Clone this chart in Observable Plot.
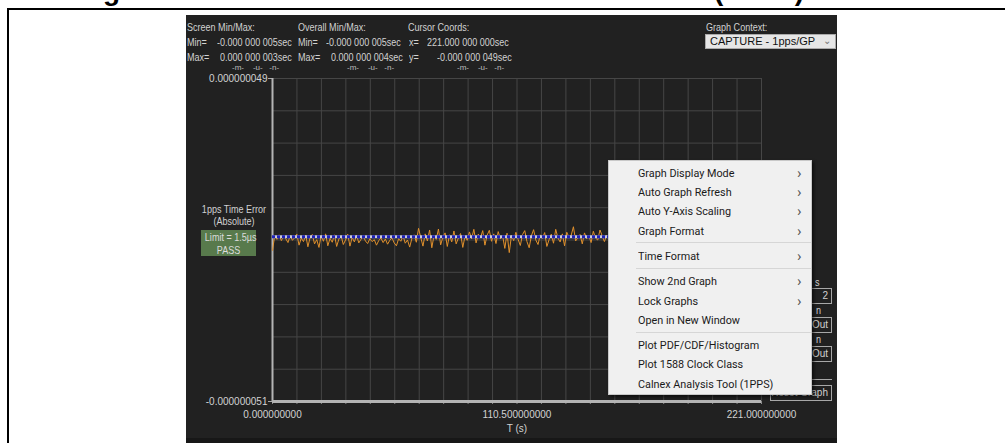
<!DOCTYPE html>
<html><head><meta charset="utf-8">
<script src="https://cdn.jsdelivr.net/npm/d3@7"></script>
<script src="https://cdn.jsdelivr.net/npm/@observablehq/plot@0.6"></script>
<style>
html,body{margin:0;padding:0;background:#fff;width:1005px;height:443px;overflow:hidden;font-family:"Liberation Sans",Arial,sans-serif;}
#title{position:absolute;left:78px;top:-24px;font:bold 28px "Liberation Sans",Arial,sans-serif;line-height:30px;color:#000;white-space:pre;}
#frame{position:absolute;left:7px;top:8px;width:1100px;height:500px;border-top:2px solid #000;border-left:2px solid #000;}
#panel{position:absolute;left:186px;top:15px;width:651px;height:428px;background:#212121;}
#panelfoot{position:absolute;left:186px;top:438px;width:651px;height:5px;background:#171717;}
.t{position:absolute;white-space:pre;color:#d2d2d2;font-size:10.5px;line-height:12px;transform:scaleX(0.86);transform-origin:0 0;}
.tc{position:absolute;white-space:pre;color:#d2d2d2;font-size:10.5px;line-height:12px;transform:scaleX(0.86);transform-origin:50% 0;text-align:center;}
.s{position:absolute;white-space:pre;color:#bdbdbd;font-size:8px;line-height:9px;}
#chart{position:absolute;left:186px;top:60px;}
#ctx{position:absolute;left:705px;top:34px;width:129px;height:13px;background:#e6e6e6;border:1px solid #aaa;color:#111;font-size:11px;line-height:13px;}
#green{position:absolute;left:201px;top:230px;width:55px;height:26px;background:#587a4c;}
.box{position:absolute;border:1px solid #a8a8a8;color:#cfcfcf;font-size:10px;line-height:13px;text-align:right;padding-right:3px;box-sizing:border-box;}
#menu{position:absolute;left:608px;top:160px;width:204px;height:235px;background:#f0f0f0;border:1px solid #c8c8c8;box-sizing:border-box;box-shadow:2px 2px 3px rgba(0,0,0,0.55);font-family:Roboto,"Liberation Sans",sans-serif;}
.mi{position:absolute;left:29px;font-size:11.5px;line-height:14px;color:#1a1a1a;white-space:pre;transform:scaleX(0.94);transform-origin:0 0;}
.ar{position:absolute;left:188px;font-size:15px;line-height:14px;color:#555;}
.sep{position:absolute;left:27px;width:175px;height:1px;background:#d6d6d6;}
</style></head>
<body>
<div id="title">Figure 5: 1PPS Time Error Measurement Result (1PPS)</div>
<div id="frame"></div>
<div id="panel"></div>
<div id="panelfoot"></div>

<div id="chart"></div>
<div id="texts"></div>

<script>
// ---- data ----
// time error samples (ns), one per second, visible portion of the capture
const timeErrorNs = [
 -4.2, 0.3, -0.8, 0.6, -1.2, 0.2, -0.6, -1.8, 0.4, -1.1,
 -0.3, 0.8, -2.6, -0.4, -1.5, 0.5, -3.1, -0.2, 0.7, -2.2,
 -0.9, -3.3, 0.4, -1.4, 0.9, -2.8, -0.5, -1.7, 0.6, -3.0,
 -0.7, 0.3, -2.4, -1.0, 0.8, -2.9, -0.2, -1.6, 0.5, -1.9,
 -0.8, 0.2, -1.3, -2.1, -0.6, -1.5, -0.9, -2.6, -1.2, -0.4,
 -1.8, -0.7, -2.3, -1.1, -0.3, -1.9, -2.8, -0.6, -1.4, 0.3,
 -2.0, -1.0, -3.2, -0.5, 0.6, -1.7, 2.6, -0.2, -2.9, 0.9,
 -1.3, 2.1, -3.4, 0.4, -0.8, 2.4, -2.5, -0.1, 1.2, -3.0,
 0.6, -1.6, 1.8, -2.2, -0.4, 1.0, -3.3, 0.2, -1.1, 1.5,
 -0.6, 2.3, -1.9, 0.8, -0.3, 1.9, -2.6, 0.5, 2.0, -1.4,
 0.9, -2.1, 1.6, -0.7, 0.3, -3.6, 1.1, -4.9, 0.4, -1.2,
 1.4, -0.8, -2.7, 0.7, 1.9, -1.5, -3.4, 0.3, 2.2, -1.0,
 -2.4, 0.6, -0.5, 1.3, -3.0, -0.9, 0.8, -2.0, 2.3, -0.4,
 -1.6, 0.9, -2.8, 1.4, -0.2, 0.5, 3.1, -1.3, -0.3, 0.7,
 -2.2, 1.2, -0.6, 0.2, -1.8, 1.7, -0.4, -1.0, 2.1, 0.3,
 -1.5, 0.4
];
const xDomain = [0, 221];                 // seconds
const yDomain = [-51e-9, 49e-9];          // seconds
const xTickLabels = [0, 110.5, 221];
const yTickLabels = [49e-9, -51e-9];
const referenceLevel = [0];
const xGridCount = 20, yGridCount = 10;

const headerLabels = ["Screen Min/Max:", "Overall Min/Max:", "Cursor Coords:"];
const screenMinMax = ["-0.000 000 005sec", "0.000 000 003sec"];
const overallMinMax = ["-0.000 000 005sec", "0.000 000 004sec"];
const cursorCoords = ["221.000 000 000sec", "-0.000 000 049sec"];
const graphContext = "CAPTURE - 1pps/GP";
const yAxisTitle = ["1pps Time Error", "(Absolute)"];
const limitBox = ["Limit = 1.5µs", "PASS"];
const menuItems = [
  ["Graph Display Mode", true], ["Auto Graph Refresh", true], ["Auto Y-Axis Scaling", true], ["Graph Format", true], null,
  ["Time Format", true], null,
  ["Show 2nd Graph", true], ["Lock Graphs", true], ["Open in New Window", false], null,
  ["Plot PDF/CDF/Histogram", false], ["Plot 1588 Clock Class", false], ["Calnex Analysis Tool (1PPS)", false]
];

// ---- chart ----
const series = timeErrorNs.map((v, i) => ({t: i, e: v * 1e-9}));
const gridX = d3.range(0, xGridCount + 1).map(i => i * xDomain[1] / xGridCount);
const gridY = d3.range(0, yGridCount + 1).map(i => yDomain[0] + i * (yDomain[1] - yDomain[0]) / yGridCount);
const fmt = d => d3.format(".9f")(d).replace("\u2212", "-");

const chart = Plot.plot({
  width: 651, height: 383,
  marginLeft: 86, marginRight: 76, marginTop: 18, marginBottom: 42,
  style: {background: "transparent", color: "#d2d2d2", fontSize: "10px", fontFamily: "'Liberation Sans', Arial, sans-serif"},
  x: {domain: xDomain},
  y: {domain: yDomain},
  marks: [
    Plot.ruleX(gridX, {stroke: "#464646", strokeWidth: 1}),
    Plot.ruleY(gridY, {stroke: "#464646", strokeWidth: 1}),
    Plot.axisX(gridX, {tickSize: 3, stroke: "#8a8a8a", tickFormat: () => "", label: null}),
    Plot.axisX(xTickLabels, {tickSize: 0, tickPadding: 9, tickFormat: fmt, label: "T (s)", labelAnchor: "center", labelOffset: 30, labelArrow: "none", fill: "#d2d2d2"}),
    Plot.axisY(yTickLabels, {tickSize: 4, tickPadding: 1, tickFormat: fmt, label: null, stroke: "#aaa", fill: "#d2d2d2"}),
    Plot.ruleX([xDomain[0]], {stroke: "#b4b4b4", strokeWidth: 2}),
    Plot.ruleY([yDomain[0]], {stroke: "#b4b4b4", strokeWidth: 3}),
    Plot.line(series, {x: "t", y: "e", stroke: "#e0902c", strokeWidth: 1}),
    Plot.ruleY(referenceLevel, {stroke: "#c9c9dc", strokeWidth: 3}),
    Plot.ruleY(referenceLevel, {stroke: "#1e22b8", strokeWidth: 3, strokeDasharray: "3 2"})
  ]
});
document.getElementById("chart").appendChild(chart);

// ---- UI texts ----
const T = document.getElementById("texts");
function add(cls, txt, left, top, extra) {
  const d = document.createElement("div");
  d.className = cls; d.textContent = txt;
  d.style.left = left + "px"; d.style.top = top + "px";
  if (extra) Object.assign(d.style, extra);
  T.appendChild(d); return d;
}
add("t", headerLabels[0], 187, 21);
add("t", headerLabels[1], 298, 21);
add("t", headerLabels[2], 408, 21);
add("t", "Min=", 187, 36); add("t", screenMinMax[0], 217, 36);
add("t", "Max=", 187, 51); add("t", screenMinMax[1], 220, 51);
add("t", "Min=", 298, 36); add("t", overallMinMax[0], 326, 36);
add("t", "Max=", 298, 51); add("t", overallMinMax[1], 331, 51);
add("t", "x=", 409, 36); add("t", cursorCoords[0], 427, 36);
add("t", "y=", 409, 51); add("t", cursorCoords[1], 437, 51);
add("s", "-m-    -u-   -n-", 232, 63);
add("s", "-m-    -u-   -n-", 347, 63);
add("s", "-m-    -u-   -n-", 457, 63);
add("t", "Graph Context:", 706, 21);
const ctx = document.createElement("div"); ctx.id = "ctx"; T.appendChild(ctx);
ctx.innerHTML = '<span style="position:absolute;left:4px;top:0">' + graphContext + '</span><span style="position:absolute;right:4px;top:-1px;color:#777;font-size:10px">&#8964;</span>';
add("tc", yAxisTitle[0], 186, 203, {width: "96px"});
add("tc", yAxisTitle[1], 186, 215, {width: "96px"});
const g = document.createElement("div"); g.id = "green"; T.appendChild(g);
add("tc", limitBox[0], 201, 231, {width: "55px", color: "#dcdcdc"});
add("tc", limitBox[1], 201, 244, {width: "55px", color: "#dcdcdc"});

// right-hand controls (mostly hidden under the menu)
add("t", "s", 815, 276);
add("box", "2", 770, 288, {width: "62px", height: "16px"});
add("t", "n", 816, 304);
add("box", "Out", 770, 317, {width: "62px", height: "16px"});
add("t", "n", 816, 333);
add("box", "Out", 770, 346, {width: "62px", height: "16px"});
const ln = document.createElement("div");
Object.assign(ln.style, {position: "absolute", left: "790px", top: "379px", width: "42px", height: "1px", background: "#a8a8a8"});
T.appendChild(ln);
add("box", "Reset Graph", 770, 385, {width: "62px", height: "16px"});

// context menu
const menu = document.createElement("div"); menu.id = "menu"; document.body.appendChild(menu);
const itemY = [5, 24, 43, 63, null, 88, null, 113, 133, 152, null, 177, 196, 216];
const sepY = [null, null, null, null, 81, null, 107, null, null, null, 171];
menuItems.forEach((it, i) => {
  if (it === null) {
    const s = document.createElement("div"); s.className = "sep"; s.style.top = sepY[i] + "px"; menu.appendChild(s);
  } else {
    const m = document.createElement("div"); m.className = "mi"; m.textContent = it[0]; m.style.top = itemY[i] + "px"; menu.appendChild(m);
    if (it[1]) { const a = document.createElement("div"); a.className = "ar"; a.textContent = "\u203A"; a.style.top = itemY[i] + "px"; menu.appendChild(a); }
  }
});
</script>
</body></html>
